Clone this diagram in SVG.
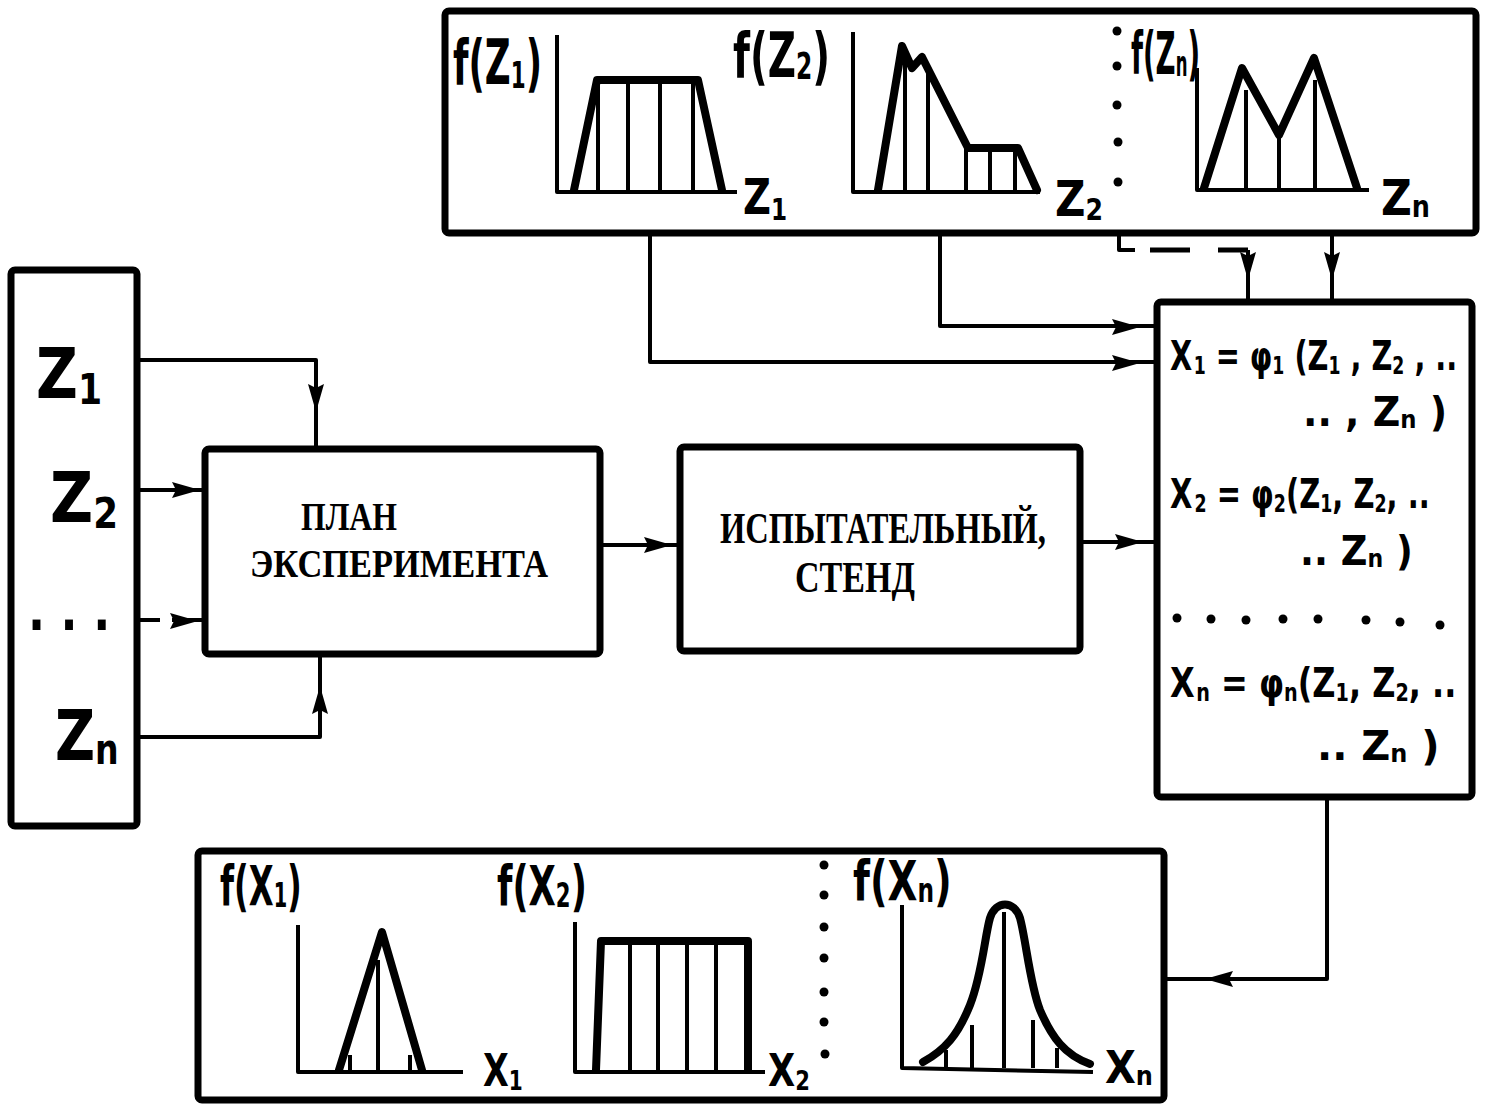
<svg xmlns="http://www.w3.org/2000/svg" xmlns:xlink="http://www.w3.org/1999/xlink" width="1485" height="1109" viewBox="0 0 1485 1109">
<style>
.box{fill:none;stroke:#000;stroke-width:7;stroke-linejoin:round}
.ln{fill:none;stroke:#000;stroke-width:4;stroke-linejoin:round}
.dash{fill:none;stroke:#000;stroke-width:5}
.ax{fill:none;stroke:#000;stroke-width:4;stroke-linejoin:round}
.sh{fill:none;stroke:#000;stroke-width:8;stroke-linejoin:round;stroke-linecap:round}
.ht{fill:none;stroke:#000;stroke-width:4}
.hw{font-family:"DejaVu Sans",sans-serif;font-weight:bold;fill:#000}
.pr{font-family:"Liberation Serif",serif;font-weight:bold;fill:#000}
.sb{font-size:0.6em}
.dot{fill:#000}
</style>
<defs>
<path id="ah" d="M0,0 L-28,-8 L-24,0 L-28,8 Z" fill="#000"/>
</defs>
<rect width="1485" height="1109" fill="#fff"/>

<g id="connectors">
  <polyline class="ln" points="137,360 316,360 316,448"/>
  <use xlink:href="#ah" transform="translate(316,412) rotate(90)"/>
  <line class="ln" x1="137" y1="490" x2="205" y2="490"/>
  <use xlink:href="#ah" transform="translate(200,490)"/>
  <line class="ln" x1="137" y1="620" x2="160" y2="620"/>
  <line class="ln" x1="172" y1="620" x2="205" y2="620"/>
  <use xlink:href="#ah" transform="translate(198,621)"/>
  <polyline class="ln" points="137,737 320,737 320,655"/>
  <use xlink:href="#ah" transform="translate(320,686) rotate(-90)"/>
  <line class="ln" x1="600" y1="545" x2="680" y2="545"/>
  <use xlink:href="#ah" transform="translate(672,545)"/>
  <line class="ln" x1="1080" y1="542" x2="1157" y2="542"/>
  <use xlink:href="#ah" transform="translate(1143,542)"/>
  <polyline class="ln" points="650,233 650,362 1157,362"/>
  <use xlink:href="#ah" transform="translate(1140,363)"/>
  <polyline class="ln" points="940,233 940,326 1157,326"/>
  <use xlink:href="#ah" transform="translate(1140,327)"/>
  <polyline class="ln" points="1119,233 1119,250 1135,250"/>
  <line class="dash" x1="1150" y1="250" x2="1248" y2="250" stroke-dasharray="40 28"/>
  <line class="ln" x1="1248" y1="250" x2="1248" y2="300"/>
  <use xlink:href="#ah" transform="translate(1248,280) rotate(90)"/>
  <line class="ln" x1="1332" y1="233" x2="1332" y2="300"/>
  <use xlink:href="#ah" transform="translate(1332,280) rotate(90)"/>
  <polyline class="ln" points="1327,797 1327,979 1165,979"/>
  <use xlink:href="#ah" transform="translate(1205,979) rotate(180)"/>
</g>

<g id="node-z-inputs">
  <rect class="box" x="11" y="270" width="126" height="556" rx="4"/>
  <text class="hw" font-size="70" transform="translate(36,398) scale(0.825,1)">Z<tspan class="sb" dy="6">1</tspan></text>
  <text class="hw" font-size="70" transform="translate(50,522) scale(0.85,1)">Z<tspan class="sb" dy="6">2</tspan></text>
  <text class="hw" font-size="56" transform="translate(28,630) scale(0.8,1)">. . .</text>
  <text class="hw" font-size="70" transform="translate(55,760) scale(0.79,1)">Z<tspan class="sb" dy="4">n</tspan></text>
</g>

<g id="node-plan">
  <rect class="box" x="205" y="449" width="395" height="205" rx="4"/>
  <text class="pr" x="301" y="530" font-size="40" textLength="96" lengthAdjust="spacingAndGlyphs">ПЛАН</text>
  <text class="pr" x="250" y="577" font-size="40" textLength="298" lengthAdjust="spacingAndGlyphs">ЭКСПЕРИМЕНТА</text>
</g>

<g id="node-stand">
  <rect class="box" x="680" y="447" width="400" height="204" rx="4"/>
  <text class="pr" x="720" y="543" font-size="44" textLength="326" lengthAdjust="spacingAndGlyphs">ИСПЫТАТЕЛЬНЫЙ,</text>
  <text class="pr" x="795" y="592" font-size="44" textLength="120" lengthAdjust="spacingAndGlyphs">СТЕНД</text>
</g>

<g id="node-input-distributions">
  <rect class="box" x="445" y="11" width="1031" height="222" rx="4"/>
  <polyline class="ax" points="557,35 557,192 737,192"/>
  <polyline class="sh" points="574,190 597,80 698,80 722,190"/>
  <line class="ht" x1="598" y1="82" x2="598" y2="190"/>
  <line class="ht" x1="628" y1="82" x2="628" y2="190"/>
  <line class="ht" x1="660" y1="82" x2="660" y2="190"/>
  <line class="ht" x1="693" y1="82" x2="693" y2="190"/>
  <text class="hw" font-size="62" transform="translate(453,84) scale(0.576,1)">f(Z<tspan class="sb" dy="4">1</tspan><tspan dy="-4">)</tspan></text>
  <text class="hw" font-size="50" transform="translate(743,214) scale(0.77,1)">Z<tspan class="sb" dy="6">1</tspan></text>
  <polyline class="ax" points="853,32 853,192 1040,192"/>
  <polyline class="sh" points="878,190 902,46 912,68 922,57 968,148 1018,148 1037,190"/>
  <line class="ht" x1="905" y1="60" x2="905" y2="190"/>
  <line class="ht" x1="928" y1="70" x2="928" y2="190"/>
  <line class="ht" x1="966" y1="146" x2="966" y2="190"/>
  <line class="ht" x1="990" y1="148" x2="990" y2="190"/>
  <line class="ht" x1="1015" y1="148" x2="1015" y2="190"/>
  <text class="hw" font-size="62" transform="translate(733,77) scale(0.628,1)">f(Z<tspan class="sb" dy="2">2</tspan><tspan dy="-2">)</tspan></text>
  <text class="hw" font-size="50" transform="translate(1055,216) scale(0.84,1)">Z<tspan class="sb" dy="4">2</tspan></text>
  <circle class="dot" cx="1117" cy="31" r="4.5"/>
  <circle class="dot" cx="1117" cy="66" r="4.5"/>
  <circle class="dot" cx="1117" cy="105" r="4.5"/>
  <circle class="dot" cx="1118" cy="142" r="4.5"/>
  <circle class="dot" cx="1118" cy="182" r="4.5"/>
  <polyline class="ax" points="1197,68 1197,190 1369,190"/>
  <polyline class="sh" points="1204,188 1242,68 1279,135 1314,58 1357,188"/>
  <line class="ht" x1="1246" y1="90" x2="1246" y2="188"/>
  <line class="ht" x1="1279" y1="138" x2="1279" y2="188"/>
  <line class="ht" x1="1315" y1="80" x2="1315" y2="188"/>
  <text class="hw" font-size="58" transform="translate(1131,74) scale(0.476,1)">f(Z<tspan class="sb" dy="2">n</tspan><tspan dy="-2">)</tspan></text>
  <text class="hw" font-size="50" transform="translate(1381,215) scale(0.85,1)">Z<tspan class="sb" dy="2">n</tspan></text>
</g>

<g id="node-functions">
  <rect class="box" x="1157" y="302" width="315" height="495" rx="4"/>
  <text class="hw" font-size="40" transform="translate(1170,370) scale(0.72,1)">X<tspan class="sb" dx="2" dy="4">1</tspan><tspan dy="-4"> = φ</tspan><tspan class="sb" dy="4">1</tspan><tspan dy="-4"> (Z</tspan><tspan class="sb" dy="4">1</tspan><tspan dy="-4"> , Z</tspan><tspan class="sb" dy="4">2</tspan><tspan dy="-4"> , ..</tspan></text>
  <text class="hw" font-size="40" transform="translate(1303,426) scale(0.95,1)">.. , Z<tspan class="sb" dy="2">n</tspan><tspan dy="-2"> )</tspan></text>
  <text class="hw" font-size="40" transform="translate(1170,508) scale(0.725,1)">X<tspan class="sb" dx="3" dy="4">2</tspan><tspan dy="-4"> = φ</tspan><tspan class="sb" dy="4">2</tspan><tspan dy="-4">(Z</tspan><tspan class="sb" dy="4">1</tspan><tspan dy="-4">, Z</tspan><tspan class="sb" dy="4">2</tspan><tspan dy="-4">, ..</tspan></text>
  <text class="hw" font-size="40" transform="translate(1300,565) scale(0.92,1)">.. Z<tspan class="sb" dy="2">n</tspan><tspan dy="-2"> )</tspan></text>
  <circle class="dot" cx="1177" cy="618" r="4.5"/>
  <circle class="dot" cx="1211" cy="619" r="4.5"/>
  <circle class="dot" cx="1246" cy="620" r="4.5"/>
  <circle class="dot" cx="1283" cy="619" r="4.5"/>
  <circle class="dot" cx="1318" cy="619" r="4.5"/>
  <circle class="dot" cx="1366" cy="620" r="4.5"/>
  <circle class="dot" cx="1400" cy="622" r="4.5"/>
  <circle class="dot" cx="1440" cy="625" r="4.5"/>
  <text class="hw" font-size="40" transform="translate(1170,697) scale(0.8,1)">X<tspan class="sb" dx="2" dy="4">n</tspan><tspan dy="-4"> = φ</tspan><tspan class="sb" dy="4">n</tspan><tspan dy="-4">(Z</tspan><tspan class="sb" dy="4">1</tspan><tspan dy="-4">, Z</tspan><tspan class="sb" dy="4">2</tspan><tspan dy="-4">, ..</tspan></text>
  <text class="hw" font-size="40" transform="translate(1317,760) scale(1,1)">.. Z<tspan class="sb" dy="2">n</tspan><tspan dy="-2"> )</tspan></text>
</g>

<g id="node-output-distributions">
  <rect class="box" x="198" y="851" width="966" height="249" rx="4"/>
  <polyline class="ax" points="298,925 298,1072 463,1072"/>
  <polyline class="sh" points="339,1070 382,932 422,1070"/>
  <line class="ht" x1="378" y1="960" x2="378" y2="1070"/>
  <line class="ht" x1="350" y1="1055" x2="350" y2="1070"/>
  <line class="ht" x1="410" y1="1055" x2="410" y2="1070"/>
  <text class="hw" font-size="56" transform="translate(220,905) scale(0.576,1)">f(X<tspan class="sb" dy="2">1</tspan><tspan dy="-2">)</tspan></text>
  <text class="hw" font-size="44" transform="translate(483,1086) scale(0.76,1)">X<tspan class="sb" dy="4">1</tspan></text>
  <polyline class="ax" points="575,922 575,1072 765,1072"/>
  <polyline class="sh" points="596,1070 601,941 748,941 748,1070"/>
  <line class="ht" x1="630" y1="943" x2="630" y2="1070"/>
  <line class="ht" x1="658" y1="943" x2="658" y2="1070"/>
  <line class="ht" x1="687" y1="943" x2="687" y2="1070"/>
  <line class="ht" x1="716" y1="943" x2="716" y2="1070"/>
  <text class="hw" font-size="56" transform="translate(497,905) scale(0.632,1)">f(X<tspan class="sb" dy="2">2</tspan><tspan dy="-2">)</tspan></text>
  <text class="hw" font-size="44" transform="translate(768,1086) scale(0.8,1)">X<tspan class="sb" dy="4">2</tspan></text>
  <circle class="dot" cx="824" cy="865" r="4.5"/>
  <circle class="dot" cx="824" cy="895" r="4.5"/>
  <circle class="dot" cx="824" cy="927" r="4.5"/>
  <circle class="dot" cx="824" cy="958" r="4.5"/>
  <circle class="dot" cx="824" cy="992" r="4.5"/>
  <circle class="dot" cx="824" cy="1022" r="4.5"/>
  <circle class="dot" cx="825" cy="1054" r="4.5"/>
  <polyline class="ax" points="902,905 902,1068 1093,1072"/>
  <path class="sh" d="M923,1062 C945,1050 958,1035 970,1005 C982,975 985,935 990,918 C996,900 1014,900 1020,918 C1026,940 1030,985 1040,1010 C1052,1038 1065,1055 1090,1064"/>
  <line class="ht" x1="972" y1="1025" x2="972" y2="1068"/>
  <line class="ht" x1="1004" y1="912" x2="1004" y2="1068"/>
  <line class="ht" x1="1033" y1="1020" x2="1033" y2="1068"/>
  <line class="ht" x1="946" y1="1050" x2="946" y2="1068"/>
  <line class="ht" x1="1057" y1="1048" x2="1057" y2="1068"/>
  <text class="hw" font-size="56" transform="translate(853,900) scale(0.693,1)">f(X<tspan class="sb" dy="2">n</tspan><tspan dy="-2">)</tspan></text>
  <text class="hw" font-size="44" transform="translate(1105,1083) scale(0.91,1)">X<tspan class="sb" dy="2">n</tspan></text>
</g>
</svg>
